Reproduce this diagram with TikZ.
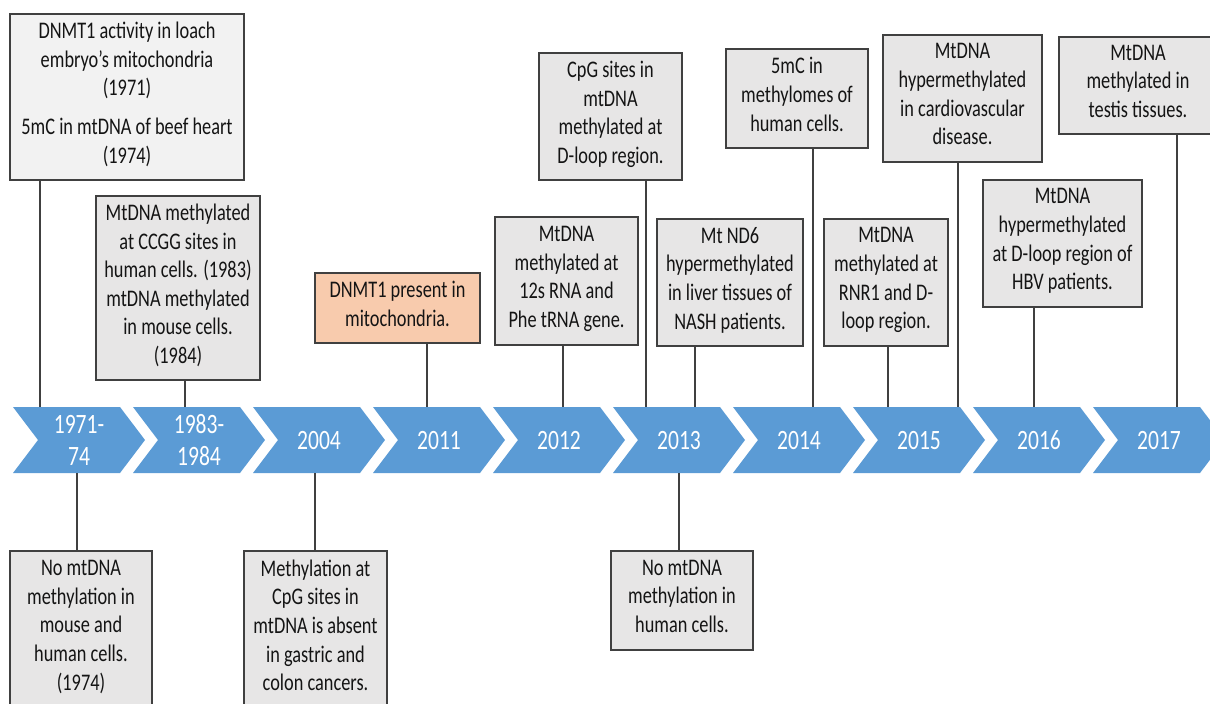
\documentclass[tikz,border=0pt]{standalone}
\usepackage{fontspec}
\setmainfont{Carlito}[FakeStretch=0.77]
\usepackage{xcolor}
\definecolor{chevblue}{HTML}{5B9BD5}
\definecolor{boxgray}{HTML}{E7E6E6}
\definecolor{boxlight}{HTML}{F2F2F2}
\definecolor{boxorange}{HTML}{F8CBAD}
\definecolor{edgegray}{HTML}{404040}
\definecolor{txtdark}{HTML}{141414}

\begin{document}
\begin{tikzpicture}[x=0.5pt,y=-0.5pt,
  evbox/.style={draw=edgegray,line width=0.75pt,fill=boxgray,text=txtdark,inner sep=0pt,align=center,
    font=\fontsize{11.9}{14.3}\selectfont,execute at begin node=\strut,execute at end node=\strut},
  yrlabel/.style={text=white,align=center,font=\fontsize{14}{16}\selectfont},
  link/.style={draw=edgegray,line width=0.55pt}]
\useasboundingbox (0,0) rectangle (1210,703);
\clip (0,0) rectangle (1210,703);
% chevrons
\foreach \yr [count=\i from 0] in {{1971-\\74},{1983-\\1984},2004,2011,2012,2013,2014,2015,2016,2017} {
  \fill[chevblue] (13+120*\i,407) -- ++(107,0) -- ++(25,33) -- ++(-25,33) -- ++(-107,0) -- ++(25,-33) -- cycle;
  \node[yrlabel] (yr\i) at (79+120*\i,440) {\yr};
}
% events above
\node[evbox,fill=boxlight,minimum width=117pt,minimum height=83pt] (ev1971) at (127,97)
  {DNMT1 activity in loach\\embryo’s mitochondria\\(1971)\\[5pt]5mC in mtDNA of beef heart\\(1974)};
\node[evbox,minimum width=82pt,minimum height=92pt] (ev1983) at (178,288)
  {MtDNA methylated\\at CCGG sites in\\human cells. (1983)\\mtDNA methylated\\in mouse cells.\\(1984)};
\node[evbox,fill=boxorange,minimum width=82.5pt,minimum height=35pt] (ev2011) at (397.5,308)
  {DNMT1 present in\\mitochondria.};
\node[evbox,minimum width=71.5pt,minimum height=64pt] (ev2012) at (566.5,281)
  {MtDNA\\methylated at\\12s RNA and\\Phe tRNA gene.};
\node[evbox,minimum width=71.5pt,minimum height=63.5pt] (ev2013a) at (610.5,116.5)
  {CpG sites in\\mtDNA\\methylated at\\D-loop region.};
\node[evbox,minimum width=73pt,minimum height=63.5pt] (ev2013b) at (730,282.5)
  {Mt ND6\\hypermethylated\\in liver tissues of\\NASH patients.};
\node[evbox,minimum width=71pt,minimum height=49.5pt] (ev2014) at (797,98.5)
  {5mC in\\methylomes of\\human cells.};
\node[evbox,minimum width=62pt,minimum height=63.5pt] (ev2015a) at (886,282.5)
  {MtDNA\\methylated at\\RNR1 and D-\\loop region.};
\node[evbox,minimum width=79.5pt,minimum height=63.5pt] (ev2015b) at (962.5,98.5)
  {MtDNA\\hypermethylated\\in cardiovascular\\disease.};
\node[evbox,minimum width=79.5pt,minimum height=63.5pt] (ev2016) at (1062.5,243.5)
  {MtDNA\\hypermethylated\\at D-loop region of\\HBV patients.};
\node[evbox,minimum width=79pt,minimum height=48.5pt] (ev2017) at (1138,85.5)
  {MtDNA\\methylated in\\testis tissues.};
% events below
\node[evbox,minimum width=71pt,minimum height=78.5pt] (ev1974) at (81,629.5)
  {No mtDNA\\methylation in\\mouse and\\human cells.\\(1974)};
\node[evbox,minimum width=71.5pt,minimum height=78.5pt] (ev2004) at (315.5,629.5)
  {Methylation at\\CpG sites in\\mtDNA is absent\\in gastric and\\colon cancers.};
\node[evbox,minimum width=71pt,minimum height=49.5pt] (ev2013c) at (682,600.5)
  {No mtDNA\\methylation in\\human cells.};
% feet of the links on the chevrons
\coordinate (f1971) at (40,407);
\coordinate (f1983) at (185,407);
\coordinate (f2011) at (427,407);
\coordinate (f2012) at (563,407);
\coordinate (f2013a) at (646,407);
\coordinate (f2013b) at (695,407);
\coordinate (f2014) at (813,407);
\coordinate (f2015a) at (888,407);
\coordinate (f2015b) at (958,407);
\coordinate (f2016) at (1034,407);
\coordinate (f2017) at (1177,407);
\coordinate (f1974) at (77,473);
\coordinate (f2004) at (315,473);
\coordinate (f2013c) at (679,473);
\foreach \e in {1971,1983,2011,2012,2013a,2013b,2014,2015a,2015b,2016,2017}
  \draw[link] (f\e |- ev\e.south) -- (f\e);
\foreach \e in {1974,2004,2013c}
  \draw[link] (f\e) -- (f\e |- ev\e.north);
\end{tikzpicture}
\end{document}
